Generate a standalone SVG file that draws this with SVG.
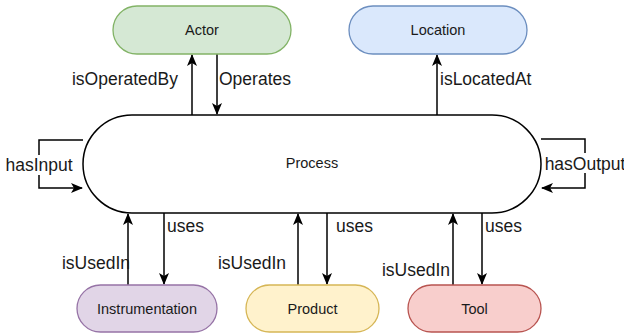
<svg xmlns="http://www.w3.org/2000/svg" width="624" height="336" viewBox="0 0 624 336">
  <style>
    .node { stroke-width: 1.3; }
    .lbl { font-family: "Liberation Sans", Arial, sans-serif; font-size: 14.5px; fill: #1a1a1a; text-anchor: middle; dominant-baseline: central; }
    .elbl { font-family: "Liberation Sans", Arial, sans-serif; font-size: 17.5px; fill: #1a1a1a; }
    .edge { fill: none; stroke: #000; stroke-width: 1.5; }
  </style>
  <defs>
    <marker id="arrow" viewBox="0 0 12 10" refX="11" refY="5" markerWidth="12" markerHeight="10" markerUnits="userSpaceOnUse" orient="auto">
      <path d="M0,0 L12,5 L0,10 L3,5 Z" fill="#000"/>
    </marker>
  </defs>
  <rect width="624" height="336" fill="#fff"/>

  <g id="connectors">
    <!-- Actor links -->
    <path class="edge" d="M192,115 V55" marker-end="url(#arrow)"/>
    <path class="edge" d="M217,54 V114" marker-end="url(#arrow)"/>
    <!-- Location link -->
    <path class="edge" d="M437,115 V55" marker-end="url(#arrow)"/>
    <!-- self loops on Process -->
    <path class="edge" d="M83,140 H39 V188 H82" marker-end="url(#arrow)"/>
    <path class="edge" d="M541,139 H585 V188 H542" marker-end="url(#arrow)"/>
    <!-- Instrumentation links -->
    <path class="edge" d="M128,285 V214" marker-end="url(#arrow)"/>
    <path class="edge" d="M164,213 V284" marker-end="url(#arrow)"/>
    <!-- Product links -->
    <path class="edge" d="M298,285 V214" marker-end="url(#arrow)"/>
    <path class="edge" d="M327,213 V284" marker-end="url(#arrow)"/>
    <!-- Tool links -->
    <path class="edge" d="M453,285 V214" marker-end="url(#arrow)"/>
    <path class="edge" d="M482,213 V284" marker-end="url(#arrow)"/>

    <!-- edge labels -->
    <text class="elbl" x="178" y="85" text-anchor="end">isOperatedBy</text>
    <text class="elbl" x="219" y="85">Operates</text>
    <text class="elbl" x="440" y="85">isLocatedAt</text>
    <rect x="8" y="155" width="62" height="20" fill="#fff"/>
    <text class="elbl" x="39" y="171" text-anchor="middle">hasInput</text>
    <rect x="547" y="153" width="76" height="20" fill="#fff"/>
    <text class="elbl" x="585" y="170" text-anchor="middle">hasOutput</text>
    <text class="elbl" x="167" y="232">uses</text>
    <text class="elbl" x="130" y="269" text-anchor="end">isUsedIn</text>
    <text class="elbl" x="336" y="232">uses</text>
    <text class="elbl" x="286" y="269" text-anchor="end">isUsedIn</text>
    <text class="elbl" x="485" y="232">uses</text>
    <text class="elbl" x="450" y="276" text-anchor="end">isUsedIn</text>
  </g>

  <g id="process">
    <rect x="83" y="115" width="458" height="98" rx="49" ry="49" fill="#fff" stroke="#000" stroke-width="1.5"/>
    <text class="lbl" x="312" y="163">Process</text>
  </g>
  <g id="actor">
    <rect class="node" x="113" y="6" width="178" height="48" rx="24" fill="#d5e8d4" stroke="#82b366"/>
    <text class="lbl" x="202" y="30">Actor</text>
  </g>
  <g id="location">
    <rect class="node" x="349" y="6" width="178" height="48" rx="24" fill="#dae8fc" stroke="#6c8ebf"/>
    <text class="lbl" x="438" y="30">Location</text>
  </g>
  <g id="instrumentation">
    <rect class="node" x="77" y="285" width="140" height="47" rx="23.5" fill="#e1d5e7" stroke="#9673a6"/>
    <text class="lbl" x="147" y="309">Instrumentation</text>
  </g>
  <g id="product">
    <rect class="node" x="246" y="285" width="133" height="47" rx="23.5" fill="#fff2cc" stroke="#d6b656"/>
    <text class="lbl" x="312.5" y="309">Product</text>
  </g>
  <g id="tool">
    <rect class="node" x="408" y="285" width="133" height="47" rx="23.5" fill="#f8cecc" stroke="#b85450"/>
    <text class="lbl" x="474.5" y="309">Tool</text>
  </g>
</svg>
